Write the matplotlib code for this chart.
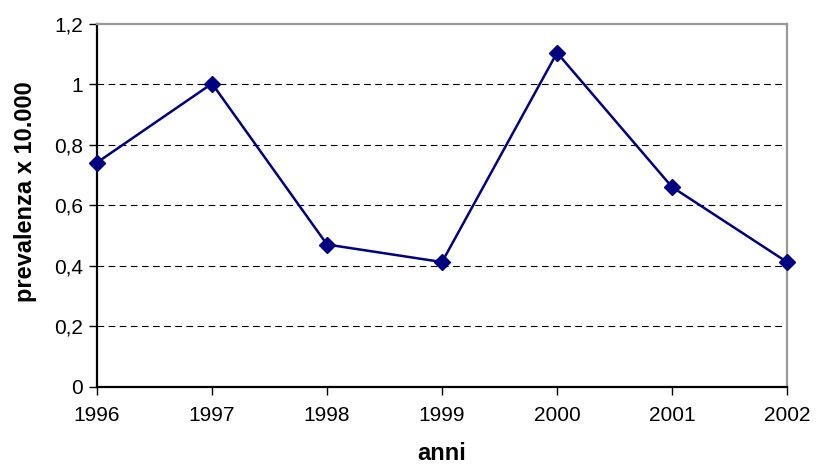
import matplotlib
matplotlib.use("Agg")
import matplotlib.pyplot as plt

years = [1996, 1997, 1998, 1999, 2000, 2001, 2002]
values = [0.742, 1.003, 0.471, 0.413, 1.105, 0.661, 0.413]
y_ticks = [0, 0.2, 0.4, 0.6, 0.8, 1.0, 1.2]
y_tick_labels = ["0", "0,2", "0,4", "0,6", "0,8", "1", "1,2"]

plt.rcParams['font.family'] = ['Liberation Sans', 'DejaVu Sans']

fig = plt.figure(figsize=(8.16, 4.70), dpi=100)
ax = fig.add_axes([0.1189, 0.1766, 0.8456, 0.7724])

for yv in y_ticks[1:-1]:
    ax.axhline(yv, color='black', linewidth=0.8, linestyle=(0, (6, 4)), zorder=1)

ax.plot(years, values, color='#000080', linewidth=1.8, marker='D', markersize=8,
        markerfacecolor='#000080', markeredgecolor='#000080', zorder=3, clip_on=False)

ax.set_xlim(1996, 2002)
ax.set_ylim(0, 1.2)
ax.set_xticks(years)
ax.set_xticklabels([str(y) for y in years])
ax.set_yticks(y_ticks)
ax.set_yticklabels(y_tick_labels)

ax.tick_params(axis='both', labelsize=15, direction='out', length=6, width=1, colors='black')
ax.tick_params(axis='x', pad=8)
ax.tick_params(axis='y', pad=4)

ax.spines['left'].set_color('black')
ax.spines['bottom'].set_color('black')
ax.spines['top'].set_color('#999999')
ax.spines['right'].set_color('#999999')
for s in ax.spines.values():
    s.set_linewidth(1.6)

ax.set_xlabel('anni', fontsize=17, fontweight='bold', labelpad=12)
ax.set_ylabel('prevalenza x 10.000', fontsize=17, fontweight='bold')
ax.yaxis.set_label_coords(-0.087, 0.537)

fig.savefig('out.png', dpi=100)
